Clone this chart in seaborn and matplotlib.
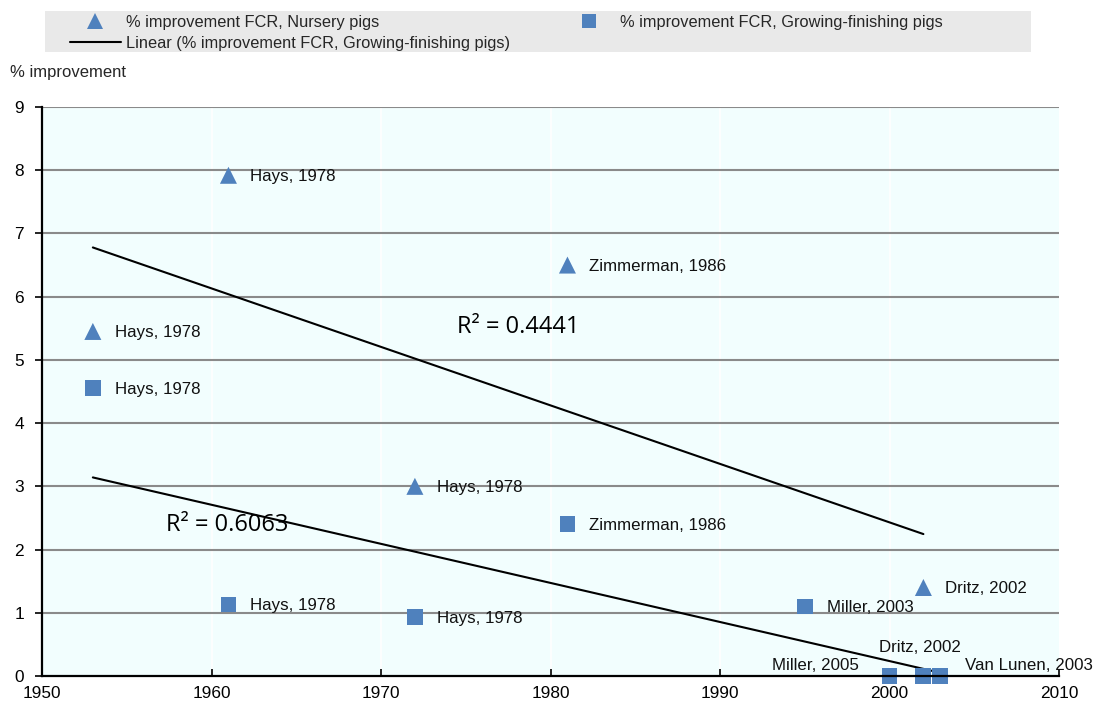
import numpy as np
import pandas as pd
import matplotlib
matplotlib.use("Agg")
import matplotlib.pyplot as plt
from matplotlib.lines import Line2D
from matplotlib.patches import Rectangle
import seaborn as sns

# ---- data ----
nursery_year = [1953, 1961, 1972, 1981, 2002]
nursery_val = [5.45, 7.92, 3.0, 6.5, 1.4]
nursery_lab = ["Hays, 1978", "Hays, 1978", "Hays, 1978", "Zimmerman, 1986", "Dritz, 2002"]

grow_year = [1953, 1961, 1972, 1981, 1995, 2000, 2002, 2003]
grow_val = [4.55, 1.13, 0.93, 2.4, 1.1, 0.0, 0.0, 0.0]
grow_lab = ["Hays, 1978", "Hays, 1978", "Hays, 1978", "Zimmerman, 1986", "Miller, 2003",
            "Miller, 2005", "Dritz, 2002", "Van Lunen, 2003"]

r2_texts = ["R\u00b2 = 0.4441", "R\u00b2 = 0.6063"]
r2_pos = [(1974.5, 5.52), (1957.3, 2.39)]

legend_labels = ["% improvement FCR, Nursery pigs",
                 "Linear (% improvement FCR, Growing-finishing pigs)",
                 "% improvement FCR, Growing-finishing pigs"]
y_label = "% improvement"
x_ticks = [1950, 1960, 1970, 1980, 1990, 2000, 2010]
y_ticks = list(range(0, 10))

nursery = pd.DataFrame({"year": nursery_year, "val": nursery_val})
grow = pd.DataFrame({"year": grow_year, "val": grow_val})

BLUE = "#4F81BD"
FONT = "Liberation Sans"

sns.set_theme(style="white")
plt.rcParams["font.family"] = [FONT, "DejaVu Sans"]

W, H = 1099, 710
fig = plt.figure(figsize=(W / 100, H / 100), dpi=100)
ax = fig.add_axes([42 / W, 1 - 676 / H, (1059 - 42) / W, (676 - 107) / H])
ax.set_facecolor("#F2FEFE")

sns.regplot(data=nursery, x="year", y="val", scatter=False, ci=None, truncate=True,
            color="black", line_kws={"lw": 1.5, "zorder": 3}, ax=ax)
sns.regplot(data=grow, x="year", y="val", scatter=False, ci=None, truncate=True,
            color="black", line_kws={"lw": 1.5, "zorder": 3}, ax=ax)

sns.scatterplot(data=nursery, x="year", y="val", marker="^", s=150, color=BLUE,
                edgecolor="none", ax=ax, zorder=4, clip_on=False)
sns.scatterplot(data=grow, x="year", y="val", marker="s", s=130, color=BLUE,
                edgecolor="none", ax=ax, zorder=4, clip_on=False)

ax.set_xlim(1950, 2010)
ax.set_ylim(0, 9)
ax.set_xticks(x_ticks)
ax.set_yticks(y_ticks)
ax.set_xlabel("")
ax.set_ylabel("")

ax.grid(False)
for yv in y_ticks[1:]:
    ax.axhline(yv, color="#8A8A8A", lw=1.5, zorder=1)
for xv in x_ticks[1:-1]:
    ax.axvline(xv, color="white", lw=1.2, zorder=0.5)

for s in ["top", "right"]:
    ax.spines[s].set_visible(False)
for s in ["left", "bottom"]:
    ax.spines[s].set_color("black")
    ax.spines[s].set_linewidth(1.6)
    ax.spines[s].set_zorder(5)

ax.tick_params(axis="x", direction="in", length=5, width=1.2, colors="black",
               labelsize=12.4, pad=7)
ax.tick_params(axis="y", direction="out", length=5, width=1.2, colors="black",
               labelsize=12.4, pad=8)
ax.tick_params(axis="both", which="both", bottom=True, left=True)

px = 0.72  # points per pixel
def lab(x, y, t, dx, dy, ha="left"):
    ax.annotate(t, (x, y), xytext=(dx * px, dy * px), textcoords="offset points",
                ha=ha, va="center", fontsize=12.2, color="#111111", zorder=6,
                annotation_clip=False)

for x, y, t in zip(nursery_year, nursery_val, nursery_lab):
    lab(x, y, t, 22, -1)

offsets = {"Miller, 2005": (-31, 10, "right"), "Dritz, 2002": (-3, 28, "center"),
           "Van Lunen, 2003": (25, 10, "left")}
for x, y, t in zip(grow_year, grow_val, grow_lab):
    dx, dy, ha = offsets.get(t, (22, -1, "left"))
    lab(x, y, t, dx, dy, ha)

for t, (x, y) in zip(r2_texts, r2_pos):
    ax.text(x, y, t, fontsize=17, family=["Open Sans", "DejaVu Sans"], ha="left",
            va="center", color="black", zorder=6)

fig.text(10 / W, 1 - 72 / H, y_label, fontsize=12, ha="left", va="center")

# legend
fig.patches.append(Rectangle((45 / W, 1 - 52 / H), (1031 - 45) / W, 41 / H,
                             transform=fig.transFigure, facecolor="#E9E9E9",
                             edgecolor="none", zorder=0))
handles = [Line2D([], [], marker="^", color=BLUE, ls="none", markersize=11, mew=0),
           Line2D([], [], color="black", lw=1.5),
           Line2D([], [], marker="s", color=BLUE, ls="none", markersize=10, mew=0)]
leg = fig.legend(handles, legend_labels, ncol=2, loc="upper left",
                 bbox_to_anchor=(70 / W, 1 - 15 / H), frameon=False, fontsize=11.8,
                 handlelength=3.1, handletextpad=0.3, columnspacing=3.3,
                 labelspacing=0.35, borderpad=0, borderaxespad=0)

fig.savefig("out.png", dpi=100, facecolor="white")
